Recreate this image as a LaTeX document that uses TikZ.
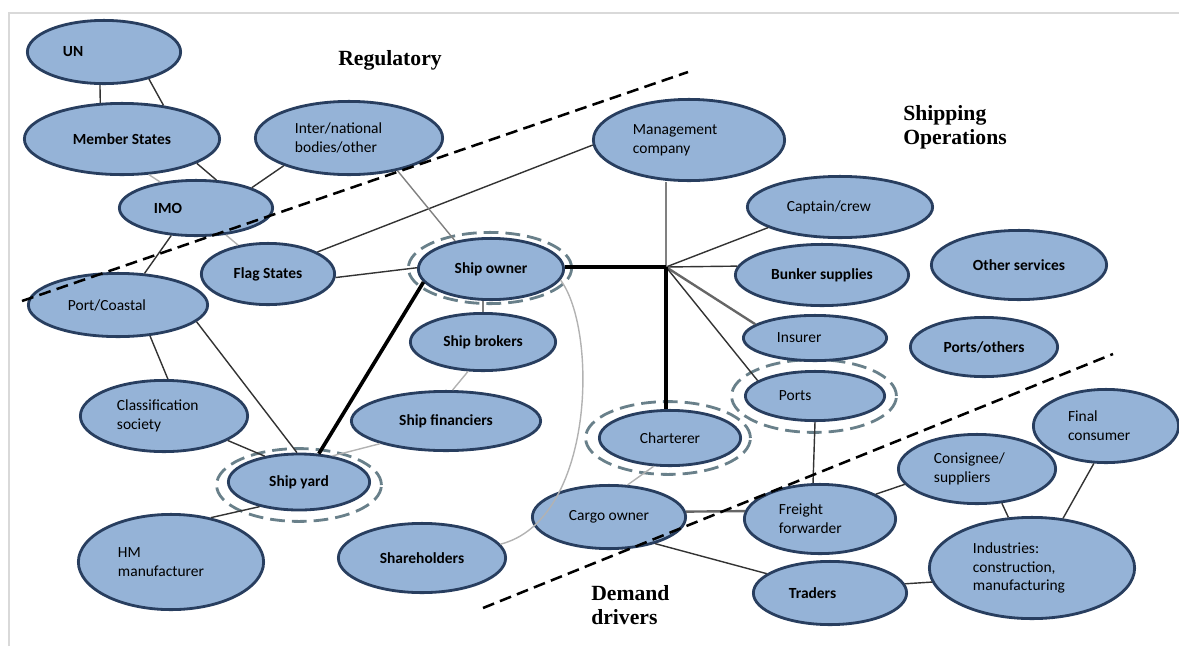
\documentclass[tikz,border=0pt]{standalone}
\usepackage{fontspec}
\newfontfamily\bodyfont{Carlito}
\newfontfamily\headfont{Liberation Serif}
\usetikzlibrary{shapes,calc,positioning}

\definecolor{boxfill}{RGB}{149,179,215}
\definecolor{boxline}{RGB}{40,62,95}
\definecolor{ringline}{RGB}{105,128,138}
\def\nodefont{\bodyfont\fontsize{11}{13.4}\selectfont}

\begin{document}
\begin{tikzpicture}[x=0.025cm, y=-0.025cm]
    \tikzstyle{actor} = [draw=boxline, fill=boxfill, ellipse, line width=2pt, inner sep=0pt, font=\nodefont, align=center]
    \tikzstyle{strong} = [font=\nodefont\bfseries]
    \tikzstyle{link} = [draw=black!80, line width=1pt]
    \tikzstyle{mid} = [draw=black!50, line width=1pt]
    \tikzstyle{faint} = [draw=black!30, line width=1pt]
    \tikzstyle{double link} = [draw=black!60, line width=1.7pt]
    \tikzstyle{heavy} = [draw, line width=2.6pt]
    \tikzstyle{border line} = [draw, line width=1.8pt, dash pattern=on 8.5pt off 4.5pt]
    \tikzstyle{ring} = [draw=ringline, line width=2pt, dash pattern=on 10.5pt off 5pt]
    \tikzstyle{title} = [inner sep=0pt, font=\headfont\bfseries\fontsize{15.4}{16.8}\selectfont, align=left]

    \useasboundingbox (0,0) rectangle (1179,646);
    \draw [black!15, line width=0.8pt] (9,646) -- (9,13) -- (1179,13);

    % dashed rings
    \draw [ring] (490,268) ellipse [x radius=2.04cm, y radius=0.89cm];
    \draw [ring] (299,485) ellipse [x radius=2.06cm, y radius=0.91cm];
    \draw [ring] (668,438) ellipse [x radius=2.06cm, y radius=0.91cm];
    \draw [ring] (814,396) ellipse [x radius=2.06cm, y radius=0.91cm];

    % regulatory side
    \node (un) [actor, strong, minimum width=3.83cm, minimum height=1.58cm, text width=2.05cm, align=left] at (104,52) {UN};
    \node (ms) [actor, strong, minimum width=4.88cm, minimum height=1.78cm] at (122,139) {Member States};
    \node (inb) [actor, minimum width=4.68cm, minimum height=1.83cm, text width=2.7cm, align=left] at (349,138) {Inter/national\\bodies/other};
    \node (imo) [actor, strong, minimum width=3.83cm, minimum height=1.38cm, text width=2.1cm, align=left] at (196,208) {IMO};
    \node (flag) [actor, strong, minimum width=3.33cm, minimum height=1.53cm] at (268,274) {Flag States};
    \node (port) [actor, minimum width=4.48cm, minimum height=1.58cm, text width=2.5cm, align=left] at (118,305) {Port/Coastal};
    \node (cls) [actor, minimum width=4.18cm, minimum height=1.78cm, text width=2.35cm, align=left] at (164,416) {Classification\\society};
    \node (yard) [actor, strong, minimum width=3.53cm, minimum height=1.4cm] at (299,482) {Ship yard};
    \node (hm) [actor, minimum width=4.63cm, minimum height=2.38cm, text width=2.65cm, align=left] at (171,562) {HM\\manufacturer};

    % ship owner group
    \node (so) [actor, strong, minimum width=3.63cm, minimum height=1.53cm] at (491,269) {Ship owner};
    \node (sb) [actor, strong, minimum width=3.63cm, minimum height=1.43cm] at (483,342) {Ship brokers};
    \node (fin) [actor, strong, minimum width=4.73cm, minimum height=1.48cm] at (446,421) {Ship financiers};
    \node (sh) [actor, strong, minimum width=4.18cm, minimum height=1.73cm] at (422,558) {Shareholders};

    % shipping operations
    \node (mgmt) [actor, minimum width=4.78cm, minimum height=2.03cm, text width=2.8cm, align=left] at (689,140) {Management\\company};
    \node (crew) [actor, minimum width=4.63cm, minimum height=1.53cm, text width=2.65cm, align=left] at (840,207) {Captain/crew};
    \node (bunker) [actor, strong, minimum width=4.33cm, minimum height=1.53cm] at (822,275) {Bunker supplies};
    \node (other) [actor, strong, minimum width=4.38cm, minimum height=1.73cm] at (1019,265) {Other services};
    \node (ins) [actor, minimum width=3.58cm, minimum height=1.13cm, text width=1.9cm, align=left] at (815,338) {Insurer};
    \node (portsoth) [actor, strong, minimum width=3.68cm, minimum height=1.48cm] at (984,347) {Ports/others};
    \node (ports) [actor, minimum width=3.48cm, minimum height=1.23cm, text width=1.8cm, align=left] at (815,396) {Ports};
    \node (ch) [actor, minimum width=3.53cm, minimum height=1.38cm] at (670,438) {Charterer};
    \coordinate (hub) at (666,267);

    % demand drivers
    \node (cargo) [actor, minimum width=3.83cm, minimum height=1.58cm] at (609,517) {Cargo owner};
    \node (ff) [actor, minimum width=3.78cm, minimum height=1.73cm, text width=2.05cm, align=left] at (820,519) {Freight\\forwarder};
    \node (trd) [actor, strong, minimum width=3.83cm, minimum height=1.58cm, text width=2.05cm, align=left] at (830,593) {Traders};
    \node (cons) [actor, minimum width=3.93cm, minimum height=1.73cm, text width=2.15cm, align=left] at (977,469) {Consignee/\\suppliers};
    \node (fc) [actor, minimum width=3.63cm, minimum height=1.83cm, text width=1.9cm, align=left] at (1106,426) {Final\\consumer};
    \node (ind) [actor, minimum width=5.13cm, minimum height=2.53cm, text width=2.95cm, align=left] at (1032,568) {Industries:\\construction,\\manufacturing};

    % links
    \path [link] (un.-97) -- (ms.121);
    \path [link] (un.-31) -- (ms.39);
    \path [faint] (ms.-53) -- (imo.144);
    \path [link] (ms.-18) -- (imo.54);
    \path [link] (inb.-157) -- (imo.20);
    \path [link] (imo.-132) -- (port.50);
    \path [faint] (imo.-42) -- (flag.136);
    \path [link] (flag.24) -- (mgmt.183);
    \path [link] (flag.-3) -- (so.179);
    \path [mid] (inb.-34) -- (so.142);
    \path [link] (port.-44) -- (cls.84);
    \path [link] (port.-12) -- (yard.94);
    \path [link] (cls.-21) -- (yard.143);
    \path [link] (yard.-148) -- (hm.48);
    \path [heavy] (yard.55) -- (so.-169);
    \path [faint] (yard.38) -- (fin.-161);
    \path [mid] (sb.north) -- (sb.north |- so.south);
    \path [faint] (sb.-117) -- (fin.78);
    \path [faint] (so.-9) .. controls (598,330) and (595,520) .. (sh.10);

    \path [mid] (hub) -- (hub |- mgmt.south);
    \path [heavy] (hub -| so.east) -- (hub);
    \path [link] (hub) -- (crew.-164);
    \path [link] (hub) -- (bunker.174);
    \path [double link] (hub) -- (ins.167);
    \path [link] (hub) -- (ports.165);
    \path [heavy] (hub) -- (hub |- ch.north);

    \path [link] (ports.south) -- (ff.101);
    \path [faint] (ch.-120) -- (cargo.60);
    \path [double link] (cargo.4) -- (ff.174);
    \path [link] (cargo.-30) -- (trd.163);
    \path [link] (ff.24) -- (cons.-168);
    \path [link] (cons.-54) -- (ind.115);
    \path [link] (fc.-108) -- (ind.58);
    \path [link] (trd.7) -- (ind.-172);

    % sector boundaries
    \coordinate (r1) at (22,301);
    \coordinate (r2) at (688,72);
    \coordinate (d1) at (483,608);
    \coordinate (d2) at (1113,354);
    \path [border line] (r1) -- (r2);
    \path [border line] (d1) -- (d2);

    \node (reg) [title] at (390,60) {Regulatory};
    \node (ops) [title, anchor=west] at (903,127) {Shipping\\Operations};
    \node (dem) [title, anchor=west] at (591,605) {Demand\\drivers};
\end{tikzpicture}
\end{document}
